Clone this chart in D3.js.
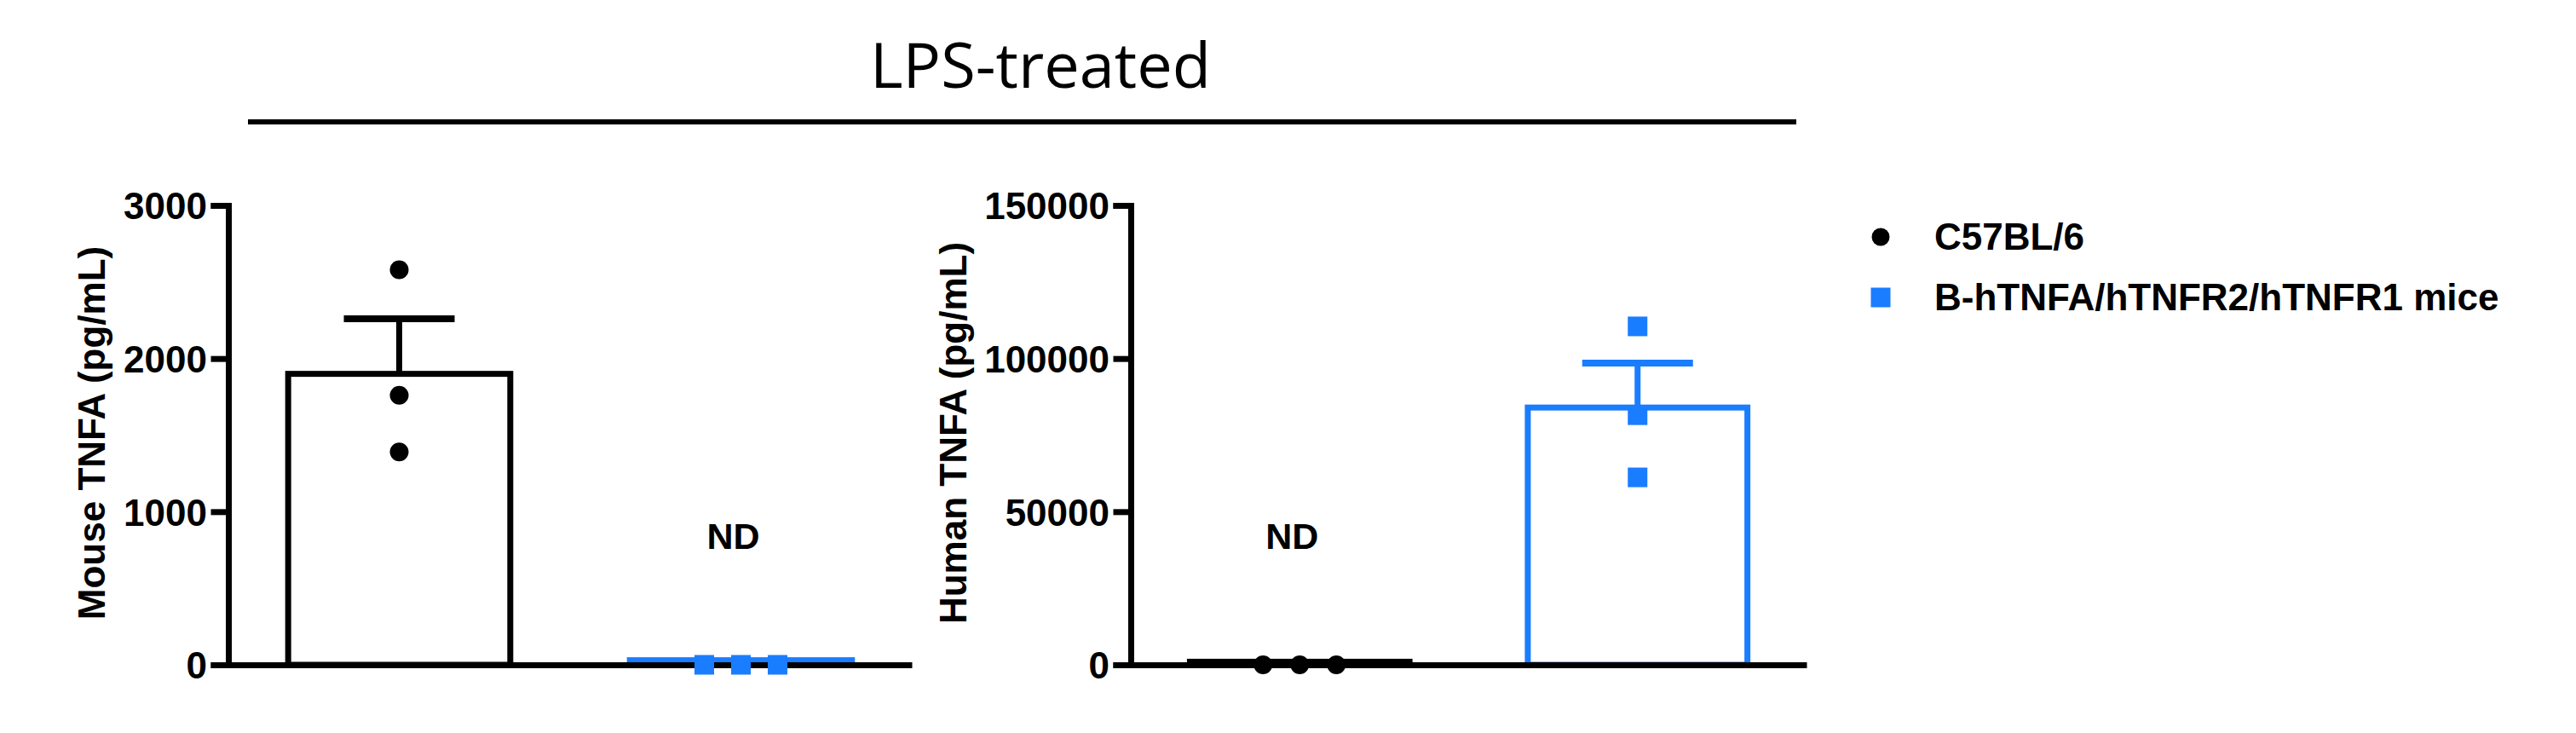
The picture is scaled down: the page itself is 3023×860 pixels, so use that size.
<!DOCTYPE html>
<html>
<head>
<meta charset="utf-8">
<script src="https://cdn.jsdelivr.net/npm/d3@7"></script>
<style>
  body { margin: 0; background: #fff; }
  text { font-family: "Liberation Sans", Arial, sans-serif; font-weight: bold; fill: #000; }
</style>
</head>
<body>
<svg id="chart" width="3023" height="860"></svg>
<script>
// groups + colours
const categories = ["C57BL/6", "B-hTNFA/hTNFR2/hTNFR1 mice"];
const groupColors = ["#000000", "#1a7dff"];
const groupShapes = ["circle", "square"];

// mouse TNFA panel
const mouseMeans = [1900, 30];
const mouseSem = [360, 0];
const mousePoints = [[2580, 1760, 1390], [0, 0, 0]];
const mouseTicks = [0, 1000, 2000, 3000];
const mouseND = [false, true];

// human TNFA panel
const humanMeans = [1000, 84000];
const humanSem = [0, 14500];
const humanPoints = [[0, 0, 0], [110500, 81500, 61200]];
const humanTicks = [0, 50000, 100000, 150000];
const humanND = [true, false];

const svg = d3.select("#chart");

const yTop = 241, yBottom = 780;
const lineW = 7;
const markerSize = 23;

// title + line
svg.append("text")
    .attr("x", 1221)
    .attr("y", 103)
    .attr("text-anchor", "middle")
    .style("font-family", "'Open Sans', 'Noto Sans', sans-serif")
    .style("font-weight", "normal")
    .style("font-size", "74px")
    .text("LPS-treated");

svg.append("line")
    .attr("x1", 291).attr("x2", 2108)
    .attr("y1", 143).attr("y2", 143)
    .attr("stroke", "#000")
    .attr("stroke-width", 6);

function panel(opts) {
    const g = svg.append("g");

    const y = d3.scaleLinear()
        .domain([0, d3.max(opts.ticks)])
        .range([yBottom, yTop]);

    const x = d3.scaleBand()
        .domain(categories)
        .range([opts.axisX, opts.xEnd])
        .paddingInner(0.35)
        .paddingOuter(0.175);

    // bars
    g.selectAll(".bar")
        .data(opts.means)
        .enter()
        .append("rect")
        .attr("class", "bar")
        .attr("x", (d, i) => x(categories[i]))
        .attr("width", x.bandwidth())
        .attr("y", d => y(d))
        .attr("height", d => y(0) - y(d))
        .attr("fill", "#fff")
        .attr("stroke", (d, i) => groupColors[i])
        .attr("stroke-width", lineW);

    // error bars (upper SEM only)
    const capHalf = 65;
    opts.means.forEach((m, i) => {
        if (!opts.sem[i]) return;
        const cx = x(categories[i]) + x.bandwidth() / 2;
        g.append("line")
            .attr("x1", cx).attr("x2", cx)
            .attr("y1", y(m)).attr("y2", y(m + opts.sem[i]))
            .attr("stroke", groupColors[i])
            .attr("stroke-width", lineW);
        g.append("line")
            .attr("x1", cx - capHalf).attr("x2", cx + capHalf)
            .attr("y1", y(m + opts.sem[i])).attr("y2", y(m + opts.sem[i]))
            .attr("stroke", groupColors[i])
            .attr("stroke-width", lineW + 1);
    });

    // y axis
    const yAxis = g.append("g")
        .attr("transform", "translate(" + opts.axisX + ",0)")
        .call(d3.axisLeft(y)
            .tickValues(opts.ticks)
            .tickFormat(d3.format("d"))
            .tickSize(17)
            .tickPadding(8));
    yAxis.selectAll("path, line")
        .attr("stroke", "#000")
        .attr("stroke-width", lineW)
        .attr("stroke-linecap", "square");
    yAxis.selectAll("text")
        .attr("dy", "0.36em")
        .style("font-size", "44px");
    yAxis.attr("font-family", null).attr("font-size", null);

    // x axis (plain line)
    const xAxis = g.append("g")
        .attr("transform", "translate(0," + yBottom + ")")
        .call(d3.axisBottom(x).tickSize(0).tickSizeOuter(0).tickFormat(""));
    xAxis.select(".domain")
        .attr("stroke", "#000")
        .attr("stroke-width", lineW);

    // data points; spread sideways when they sit on top of each other
    opts.points.forEach((vals, i) => {
        const cx = x(categories[i]) + x.bandwidth() / 2;
        const py = vals.map(v => y(v));
        const stacked = d3.max(py) - d3.min(py) < markerSize * 2;
        const step = 43;
        vals.forEach((v, j) => {
            const px = stacked ? cx + (j - (vals.length - 1) / 2) * step : cx;
            if (groupShapes[i] === "circle") {
                g.append("circle")
                    .attr("cx", px).attr("cy", y(v))
                    .attr("r", 11)
                    .attr("fill", groupColors[i]);
            } else {
                g.append("rect")
                    .attr("x", px - markerSize / 2).attr("y", y(v) - markerSize / 2)
                    .attr("width", markerSize).attr("height", markerSize)
                    .attr("fill", groupColors[i]);
            }
        });
    });

    // ND labels
    opts.nd.forEach((flag, i) => {
        if (!flag) return;
        g.append("text")
            .attr("x", x(categories[i]) + x.bandwidth() / 2 - 9)
            .attr("y", yBottom - 136)
            .attr("text-anchor", "middle")
            .style("font-size", "43px")
            .text("ND");
    });

    // axis title
    g.append("text")
        .attr("transform", "translate(" + opts.titleX + "," + 508 + ") rotate(-90)")
        .attr("text-anchor", "middle")
        .style("font-size", "44px")
        .text(opts.title);
}

panel({
    axisX: 268, xEnd: 1070, titleX: 123,
    means: mouseMeans, sem: mouseSem, points: mousePoints,
    ticks: mouseTicks, nd: mouseND, title: "Mouse TNFA (pg/mL)"
});

panel({
    axisX: 1327, xEnd: 2120, titleX: 1134,
    means: humanMeans, sem: humanSem, points: humanPoints,
    ticks: humanTicks, nd: humanND, title: "Human TNFA (pg/mL)"
});

// legend
const legend = svg.append("g").attr("transform", "translate(2207,278)");
categories.forEach((c, i) => {
    const row = legend.append("g").attr("transform", "translate(0," + (i * 71) + ")");
    if (groupShapes[i] === "circle") {
        row.append("circle").attr("r", 10.5).attr("fill", groupColors[i]);
    } else {
        row.append("rect")
            .attr("x", -11.5).attr("y", -11.5)
            .attr("width", 23).attr("height", 23)
            .attr("fill", groupColors[i]);
    }
    row.append("text")
        .attr("x", 63)
        .attr("y", 15)
        .style("font-size", "44px")
        .text(c);
});
</script>
</body>
</html>
